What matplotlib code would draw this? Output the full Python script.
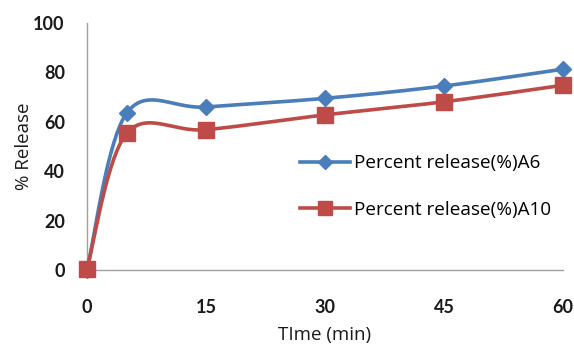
import numpy as np
import matplotlib
matplotlib.use("Agg")
import matplotlib.pyplot as plt
from matplotlib.lines import Line2D

time_min = [0, 5, 15, 30, 45, 60]
release_a6 = [0.0, 63.5, 66.0, 69.5, 74.5, 81.3]
release_a10 = [0.5, 55.3, 56.8, 62.8, 68.1, 74.8]
x_ticks = [0, 15, 30, 45, 60]
y_ticks = [0, 20, 40, 60, 80, 100]
labels = ["Percent release(%)A6", "Percent release(%)A10"]

blue = "#4A7EBB"
red = "#BE4B48"

def smooth(xs, ys, sx, sy, n=40):
    # Excel-like Catmull-Rom smoothing in screen-scaled space
    px = np.asarray(xs, float) * sx
    py = np.asarray(ys, float) * sy
    P = np.column_stack([px, py])
    out = []
    for i in range(len(P) - 1):
        p0 = P[i - 1] if i > 0 else P[i]
        p1 = P[i]
        p2 = P[i + 1]
        p3 = P[i + 2] if i + 2 < len(P) else P[i + 1]
        c1 = p1 + (p2 - p0) / 6.0
        c2 = p2 - (p3 - p1) / 6.0
        t = np.linspace(0, 1, n)[:, None]
        seg = ((1 - t) ** 3) * p1 + 3 * ((1 - t) ** 2) * t * c1 + 3 * (1 - t) * t ** 2 * c2 + t ** 3 * p2
        out.append(seg if i == 0 else seg[1:])
    S = np.vstack(out)
    return S[:, 0] / sx, S[:, 1] / sy

fig = plt.figure(figsize=(5.74, 3.45), dpi=100)
ax = fig.add_axes([87 / 574, 1 - 270 / 345, 476 / 574, 247 / 345])
ax.set_xlim(0, 60)
ax.set_ylim(0, 100)

sx = 476 / 60.0
sy = 247 / 100.0
for ys, col, mk, ms in [(release_a6, blue, "D", 8), (release_a10, red, "s", 11)]:
    xs_s, ys_s = smooth(time_min, ys, sx, sy)
    ax.plot(xs_s, ys_s, color=col, lw=2.6, clip_on=False, zorder=3)
    ax.plot(time_min, ys, ls="none", marker=mk, ms=ms, color=col, clip_on=False, zorder=4)

for s in ["top", "right"]:
    ax.spines[s].set_visible(False)
for s in ["left", "bottom"]:
    ax.spines[s].set_color("#A0A0A0")
    ax.spines[s].set_linewidth(1.0)

ax.set_xticks(x_ticks)
ax.set_yticks(y_ticks)
ax.tick_params(length=0)
ax.tick_params(axis="x", pad=21)
ax.tick_params(axis="y", pad=16)
for lab in ax.get_xticklabels() + ax.get_yticklabels():
    lab.set_fontfamily("Lato")
    lab.set_fontweight("bold")
    lab.set_fontsize(13)
    lab.set_color("#1a1a1a")

ax.set_xlabel("TIme (min)", fontfamily="Open Sans", fontsize=13.5, labelpad=7, color="#1a1a1a")
ax.set_ylabel("% Release", fontfamily="Open Sans", fontsize=13.5, labelpad=0, color="#1a1a1a")

handles = [Line2D([], [], color=blue, lw=2.6, marker="D", ms=7),
           Line2D([], [], color=red, lw=2.6, marker="s", ms=10)]
leg = ax.legend(handles, labels, loc="upper left", bbox_to_anchor=(204 / 476, 1 - 122 / 247),
                frameon=False, prop={"family": "Open Sans", "size": 13.6},
                handlelength=2.6, labelspacing=1.5, handletextpad=0.25, borderpad=0)

fig.savefig("out.png", dpi=100)
